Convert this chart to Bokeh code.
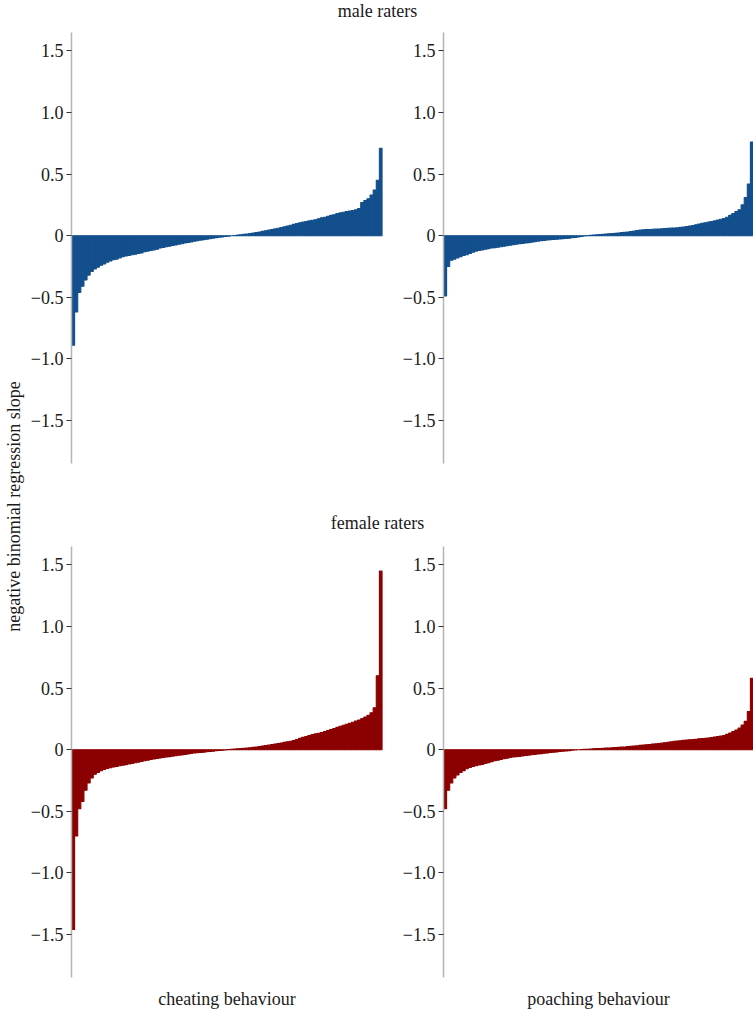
import math
from bokeh.plotting import figure
from bokeh.models import Range1d, FixedTicker, Label
from bokeh.layouts import row, column
from bokeh.embed import file_html
from bokeh.resources import INLINE

# ---------------- data ----------------
male_cheating = [
    -0.89, -0.62, -0.46, -0.41, -0.36, -0.32, -0.29, -0.27, -0.255, -0.24,
    -0.23, -0.215, -0.205, -0.195, -0.19, -0.18, -0.17, -0.165, -0.16, -0.155,
    -0.15, -0.145, -0.14, -0.13, -0.125, -0.12, -0.115, -0.11, -0.10, -0.095,
    -0.09, -0.085, -0.08, -0.075, -0.07, -0.065, -0.06, -0.055, -0.05, -0.045,
    -0.04, -0.036, -0.032, -0.028, -0.025, -0.02, -0.016, -0.013, -0.01, -0.007,
    -0.004, -0.001, 0.002, 0.005, 0.008, 0.011, 0.014, 0.018, 0.022, 0.026,
    0.03, 0.035, 0.04, 0.045, 0.05, 0.055, 0.06, 0.066, 0.072, 0.078,
    0.085, 0.092, 0.098, 0.105, 0.11, 0.115, 0.12, 0.125, 0.13, 0.138,
    0.145, 0.15, 0.158, 0.165, 0.17, 0.18, 0.185, 0.19, 0.195, 0.2,
    0.205, 0.21, 0.22, 0.27, 0.285, 0.3, 0.33, 0.37, 0.45, 0.71,
]
male_poaching = [
    -0.49, -0.25, -0.20, -0.19, -0.18, -0.17, -0.16, -0.155, -0.145, -0.135,
    -0.125, -0.12, -0.115, -0.11, -0.105, -0.10, -0.097, -0.093, -0.09, -0.085,
    -0.081, -0.078, -0.074, -0.07, -0.066, -0.063, -0.06, -0.056, -0.052, -0.048,
    -0.044, -0.04, -0.038, -0.035, -0.032, -0.03, -0.028, -0.026, -0.024, -0.022,
    -0.02, -0.017, -0.014, -0.01, -0.006, -0.002, 0.001, 0.003, 0.005, 0.007,
    0.009, 0.011, 0.013, 0.015, 0.017, 0.019, 0.022, 0.025, 0.027, 0.03,
    0.033, 0.037, 0.041, 0.045, 0.047, 0.049, 0.05, 0.052, 0.053, 0.054,
    0.056, 0.057, 0.059, 0.061, 0.062, 0.065, 0.068, 0.071, 0.075, 0.078,
    0.082, 0.088, 0.094, 0.10, 0.105, 0.11, 0.115, 0.12, 0.127, 0.133,
    0.14, 0.15, 0.165, 0.18, 0.195, 0.21, 0.25, 0.31, 0.42, 0.76,
]
female_cheating = [
    -1.46, -0.7, -0.48, -0.42, -0.33, -0.27, -0.23, -0.2, -0.185, -0.17,
    -0.16, -0.153, -0.147, -0.14, -0.136, -0.131, -0.126, -0.121, -0.116, -0.111,
    -0.106, -0.101, -0.096, -0.09, -0.085, -0.08, -0.076, -0.072, -0.068, -0.064,
    -0.06, -0.056, -0.052, -0.049, -0.045, -0.042, -0.038, -0.035, -0.031, -0.027,
    -0.025, -0.022, -0.02, -0.017, -0.015, -0.012, -0.009, -0.006, -0.004, -0.002,
    0.001, 0.003, 0.005, 0.007, 0.009, 0.011, 0.013, 0.016, 0.019, 0.022,
    0.025, 0.029, 0.033, 0.037, 0.041, 0.045, 0.049, 0.054, 0.059, 0.064,
    0.069, 0.075, 0.083, 0.092, 0.1, 0.107, 0.115, 0.122, 0.128, 0.134,
    0.14, 0.147, 0.155, 0.163, 0.172, 0.181, 0.19, 0.198, 0.207, 0.215,
    0.223, 0.232, 0.241, 0.252, 0.265, 0.28, 0.3, 0.34, 0.6, 1.45,
]
female_poaching = [
    -0.48, -0.33, -0.27, -0.23, -0.205, -0.185, -0.17, -0.155, -0.145, -0.137,
    -0.13, -0.124, -0.119, -0.112, -0.105, -0.097, -0.09, -0.085, -0.08, -0.074,
    -0.069, -0.064, -0.06, -0.057, -0.054, -0.051, -0.047, -0.044, -0.041, -0.038,
    -0.035, -0.032, -0.029, -0.026, -0.023, -0.02, -0.018, -0.015, -0.013, -0.01,
    -0.008, -0.005, -0.003, -0.001, 0.001, 0.003, 0.004, 0.006, 0.007, 0.009,
    0.01, 0.012, 0.013, 0.014, 0.016, 0.017, 0.019, 0.021, 0.022, 0.025,
    0.027, 0.03, 0.032, 0.035, 0.037, 0.04, 0.042, 0.045, 0.047, 0.049,
    0.053, 0.056, 0.06, 0.064, 0.068, 0.071, 0.073, 0.076, 0.078, 0.08,
    0.083, 0.085, 0.088, 0.091, 0.093, 0.095, 0.099, 0.103, 0.106, 0.11,
    0.114, 0.124, 0.136, 0.148, 0.16, 0.175, 0.2, 0.23, 0.31, 0.58,
]

y_ticks = [1.5, 1.0, 0.5, 0.0, -0.5, -1.0, -1.5]
y_tick_labels = ["1.5", "1.0", "0.5", "0", "\u22120.5", "\u22121.0", "\u22121.5"]
y_limits = [-1.85, 1.65]

row_titles = ["male raters", "female raters"]
behaviours = ["cheating behaviour", "poaching behaviour"]
y_title = "negative binomial regression slope"

# ---------------- styling ----------------
FONT = "Liberation Serif"
FS = "18px"
TXT = "#1a1a1a"
BLUE = "#134F8C"
RED = "#8B0000"


def panel(values, color, width, height, b_left, b_right, b_top, b_bottom, xlabel=None):
    n = len(values)
    p = figure(width=width, height=height, output_backend="svg", toolbar_location=None,
               x_range=Range1d(-0.5, n - 0.5), y_range=Range1d(*y_limits),
               min_border_left=b_left, min_border_right=b_right,
               min_border_top=b_top, min_border_bottom=b_bottom)
    p.vbar(x=list(range(n)), top=values, bottom=0, width=1.0,
           fill_color=color, line_color=color, line_width=1.1)
    p.grid.visible = False
    p.outline_line_color = None
    p.background_fill_color = "white"
    ax = p.yaxis[0]
    ax.ticker = FixedTicker(ticks=y_ticks)
    ax.major_label_overrides = {t: l for t, l in zip(y_ticks, y_tick_labels)}
    ax.axis_line_color = "#b5b5b5"
    ax.axis_line_width = 1.5
    ax.major_tick_line_color = "#333333"
    ax.major_tick_line_width = 1
    ax.major_tick_in = 0
    ax.major_tick_out = 5
    ax.minor_tick_line_color = None
    ax.major_label_standoff = 3
    ax.major_label_text_font = FONT
    ax.major_label_text_font_size = FS
    ax.major_label_text_color = TXT
    xa = p.xaxis[0]
    if xlabel is None:
        xa.visible = False
    else:
        xa.ticker = FixedTicker(ticks=[])
        xa.axis_line_color = None
        xa.major_tick_line_color = None
        xa.minor_tick_line_color = None
        xa.major_tick_out = 0
        xa.major_tick_in = 0
        xa.major_label_standoff = 0
        xa.axis_label = xlabel
        xa.axis_label_standoff = 11
        xa.axis_label_text_font = FONT
        xa.axis_label_text_font_size = FS
        xa.axis_label_text_font_style = "normal"
        xa.axis_label_text_color = TXT
    return p


def text_fig(width, height, label):
    p = figure(width=width, height=height, output_backend="svg", toolbar_location=None,
               min_border=0, x_range=Range1d(0, 1), y_range=Range1d(0, 1))
    p.axis.visible = False
    p.grid.visible = False
    p.outline_line_color = None
    p.add_layout(label)
    return p


def label(x, y, text, angle=0.0):
    return Label(x=x, y=y, x_units="screen", y_units="screen", text=text, angle=angle,
                 text_align="center", text_baseline="middle", text_font=FONT,
                 text_font_size=FS, text_color=TXT)


W_YLAB = 25
W_LEFT, W_RIGHT = 367, 361
MAIN_W = W_LEFT + W_RIGHT
H_TITLE1, H_TOP, H_TITLE2, H_BOT = 32, 473, 29, 477
TOTAL_H = H_TITLE1 + H_TOP + H_TITLE2 + H_BOT

title_top = text_fig(MAIN_W, H_TITLE1, label(377 - W_YLAB, H_TITLE1 - 10, row_titles[0]))
title_bot = text_fig(MAIN_W, H_TITLE2, label(377 - W_YLAB, 12, row_titles[1]))
ylab = text_fig(W_YLAB, TOTAL_H, label(13, TOTAL_H - 506, y_title, angle=math.pi / 2))

tl = panel(male_cheating, BLUE, W_LEFT, H_TOP, 46, 10, 0, 42)
tr = panel(male_poaching, BLUE, W_RIGHT, H_TOP, 51, 0, 0, 42)
bl = panel(female_cheating, RED, W_LEFT, H_BOT, 46, 10, 12, 34, xlabel=behaviours[0])
br = panel(female_poaching, RED, W_RIGHT, H_BOT, 51, 0, 12, 34, xlabel=behaviours[1])

main = column(title_top, row(tl, tr, spacing=0), title_bot, row(bl, br, spacing=0), spacing=0)
layout = row(ylab, main, spacing=0)

open("out.html", "w").write(file_html(layout, INLINE))
